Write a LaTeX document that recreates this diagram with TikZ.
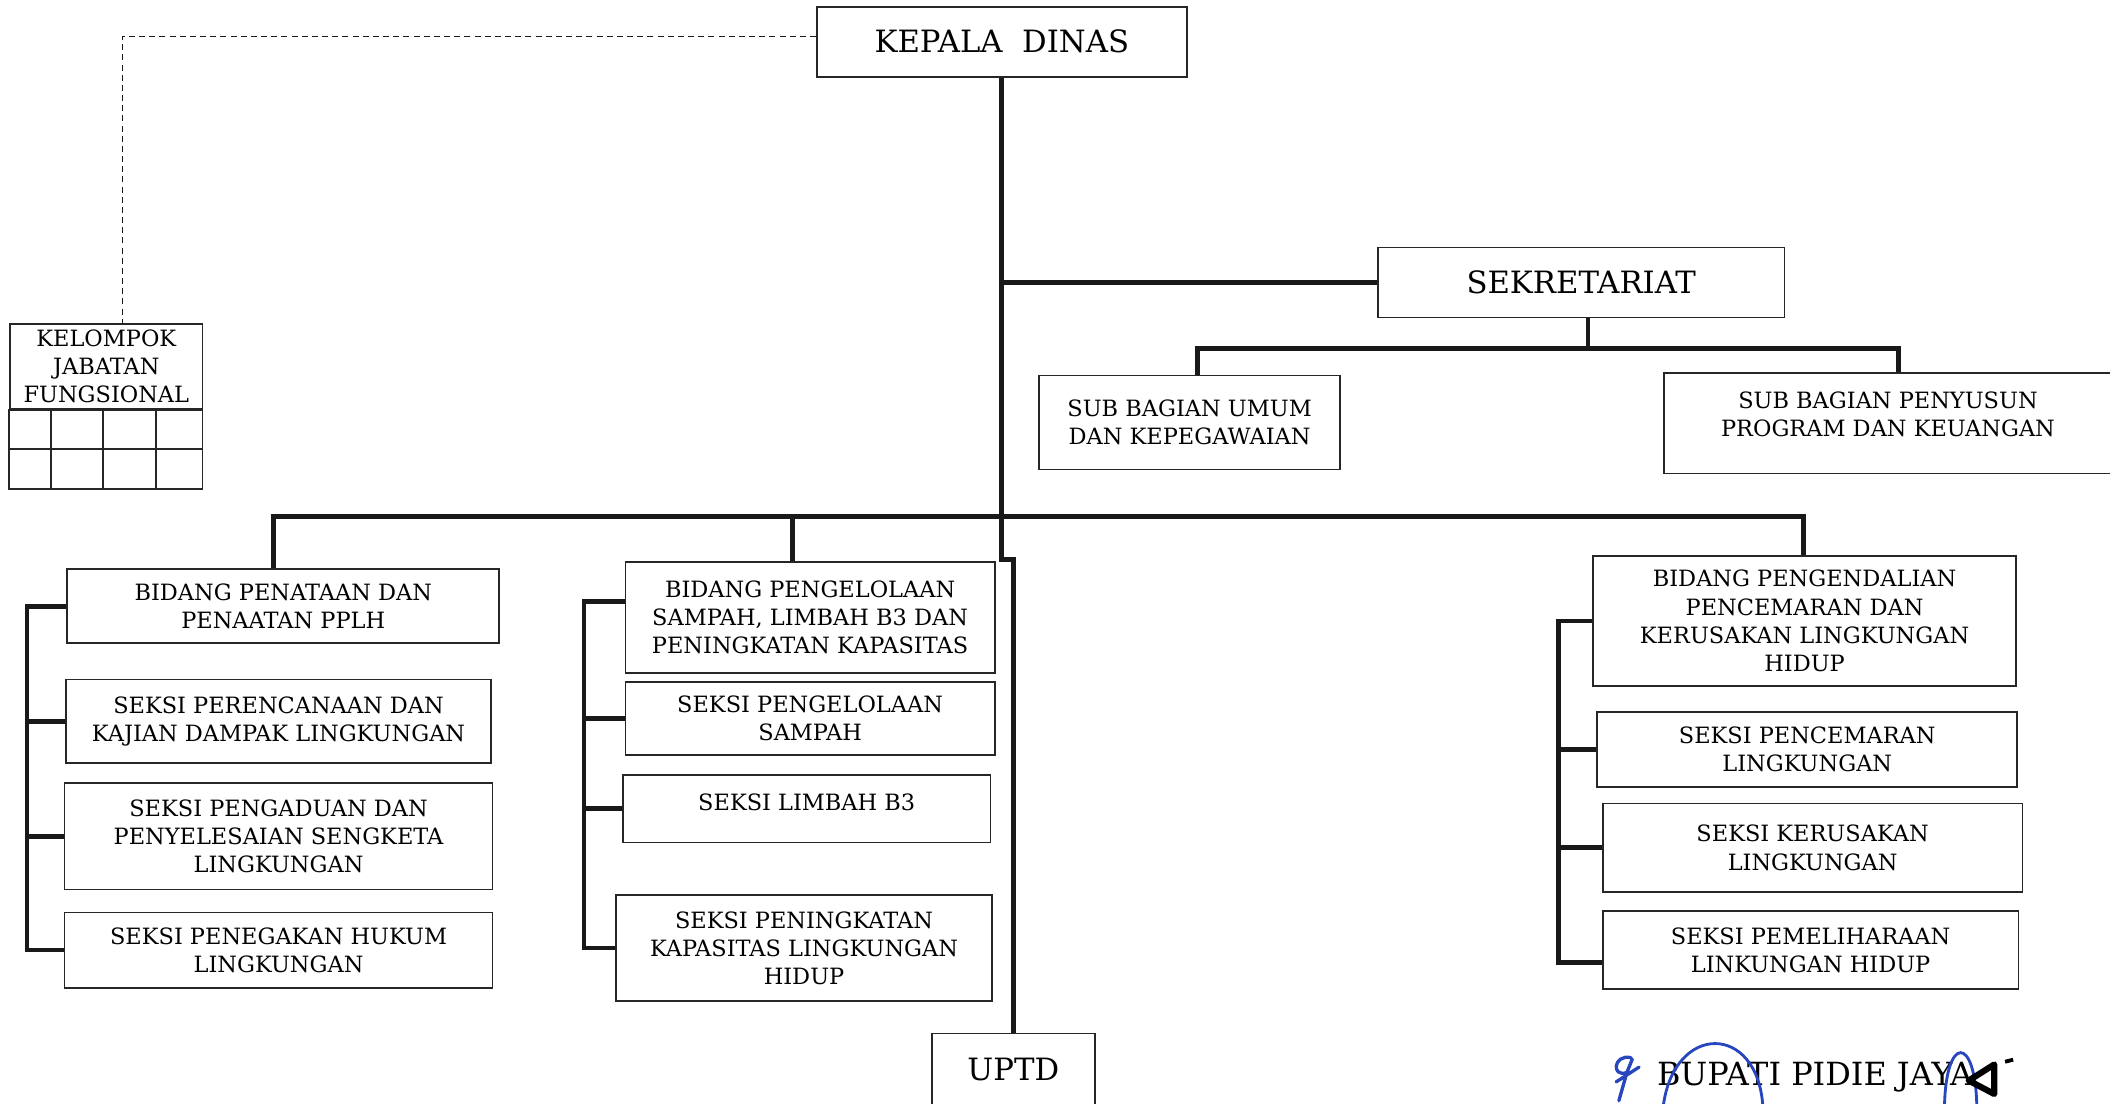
\documentclass[tikz,border=0pt]{standalone}
\usepackage{fontspec}
\setmainfont{DejaVu Serif}
\usepackage{tikz}

\newcommand{\pxu}{0.02cm}
\newcommand{\orgsmall}{\fontsize{9.5}{11.9}\selectfont}
\newcommand{\orglarge}{\fontsize{13}{15.6}\selectfont}
\definecolor{inkblue}{RGB}{40,70,190}

\begin{document}
\begin{tikzpicture}[x=0.02cm, y=-0.02cm,
  box/.style 2 args={draw=black!85, line width=0.7pt, minimum width=#1*\pxu,
    minimum height=#2*\pxu, inner sep=0pt, align=center, font=\orgsmall},
  big/.style 2 args={box={#1}{#2}, font=\orglarge},
  bar/.style={draw=black!90, line width=2pt},
  dashline/.style={draw=black!90, line width=0.6pt, dash pattern=on 2.5pt off 1.8pt}]
  \useasboundingbox (0,0) rectangle (1568,820);

  \node[big={275}{52}] (KD) at (744.5,31) {KEPALA~~DINAS};
  \node[big={302}{52}] (SK) at (1175,210) {SEKRETARIAT};
  \node[box={224}{70}] (SU) at (884,314) {SUB BAGIAN UMUM\\DAN KEPEGAWAIAN};
  \node[box={333}{75}, text depth=14*\pxu] (SP) at (1403,314.5) {SUB BAGIAN PENYUSUN\\PROGRAM DAN KEUANGAN};
  \node[box={143.2}{63.3}] (KJF) at (79,272.3) {KELOMPOK\\JABATAN\\FUNGSIONAL};

  \node[box={321}{55}] (B1) at (210.5,450.5) {BIDANG PENATAAN DAN\\PENAATAN PPLH};
  \node[box={316}{62}] (S11) at (207,536) {SEKSI PERENCANAAN DAN\\KAJIAN DAMPAK LINGKUNGAN};
  \node[box={318}{79}] (S12) at (207,621.5) {SEKSI PENGADUAN DAN\\PENYELESAIAN SENGKETA\\LINGKUNGAN};
  \node[box={318}{56}] (S13) at (207,706) {SEKSI PENEGAKAN HUKUM\\LINGKUNGAN};

  \node[box={274.5}{82.5}] (B2) at (602,459) {BIDANG PENGELOLAAN\\SAMPAH, LIMBAH B3 DAN\\PENINGKATAN KAPASITAS};
  \node[box={274.5}{54.4}] (S21) at (602,534) {SEKSI PENGELOLAAN\\SAMPAH};
  \node[box={273}{50}, text depth=10*\pxu] (S22) at (599.5,601) {SEKSI LIMBAH B3};
  \node[box={279}{79}] (S23) at (597.5,704.5) {SEKSI PENINGKATAN\\KAPASITAS LINGKUNGAN\\HIDUP};

  \node[big={121}{54}] (UPTD) at (753,795) {UPTD};

  \node[box={314}{97}] (B3) at (1341,461.5) {BIDANG PENGENDALIAN\\PENCEMARAN DAN\\KERUSAKAN LINGKUNGAN\\HIDUP};
  \node[box={312}{56}] (S31) at (1343,557) {SEKSI PENCEMARAN\\LINGKUNGAN};
  \node[box={312}{66}] (S32) at (1347,630) {SEKSI KERUSAKAN\\LINGKUNGAN};
  \node[box={309}{58}] (S33) at (1345.5,706) {SEKSI PEMELIHARAAN\\LINKUNGAN HIDUP};

  \node[font=\fontsize{13.5}{16}\selectfont, inner sep=0pt, anchor=base west] (BPJ) at (1231,807) {BUPATI PIDIE JAYA};

  \draw[draw=black!85, line width=0.7pt] (KJF.south west) rectangle (150.6,363.5);
  \draw[draw=black!85, line width=0.7pt] (7.4,333.7) -- (150.6,333.7);
  \foreach \x in {37.7,76.3,115.7}
    \draw[draw=black!85, line width=0.7pt] (\x,304) -- (\x,363.5);

  \draw[dashline] ([yshift=4*\pxu]KD.west) -| ([xshift=12*\pxu]KJF.north);

  \coordinate (step) at (744.5,416);
  \draw[bar] (KD.south) -- (step) -| (UPTD.north);
  \draw[bar] (SK.west) -- (SK.west -| KD.south);

  \coordinate (subbus) at (1180,259);
  \draw[bar] (SK.south -| subbus) -- (subbus);
  \draw[bar] ([xshift=6*\pxu]SU.north) |- (subbus) -| ([xshift=8*\pxu]SP.north);

  \coordinate (busL) at (203,384);
  \coordinate (busM) at (589,384);
  \coordinate (busR) at (1340,384);
  \draw[bar] (B1.north -| busL) -- (busL) -- (busR) -- (B3.north -| busR);
  \draw[bar] (busM) -- (B2.north -| busM);

  \coordinate (spL) at (20,0);
  \coordinate (spM) at (434,0);
  \coordinate (spR) at (1158,0);
  \draw[bar] (B1.west) -| (spL |- S13.west) -- (S13.west);
  \foreach \n in {S11,S12}
    \draw[bar] (\n.west) -- (\n.west -| spL);

  \coordinate (t2) at ([yshift=12*\pxu]B2.west);
  \draw[bar] (t2) -| (spM |- S23.west) -- (S23.west);
  \foreach \n in {S21,S22}
    \draw[bar] (\n.west) -- (\n.west -| spM);

  \coordinate (t33) at ([yshift=-9*\pxu]S33.west);
  \draw[bar] (B3.west) -| (spR |- t33) -- (t33);
  \foreach \n in {S31,S32}
    \draw[bar] (\n.west) -- (\n.west -| spR);

  \draw[inkblue, line width=1.2pt] (1236,822) .. controls (1244,760) and (1306,760) .. (1310,822);
  \draw[inkblue, line width=1.2pt] (1445,822) .. controls (1446,769) and (1468,769) .. (1469,822);
  \draw[inkblue, line width=1.4pt, line cap=round, line join=round]
    (1212,786) .. controls (1199,783) and (1197,801) .. (1209,797) -- (1213,787)
    (1218,793) -- (1201,804) (1209,797) -- (1203,818);
  \draw[black, line width=2.6pt, line join=round] (1482,791) -- (1463,803) -- (1482,813) -- cycle;
  \draw[black, line width=1.6pt] (1490,789) -- (1496,787.5);
\end{tikzpicture}
\end{document}
